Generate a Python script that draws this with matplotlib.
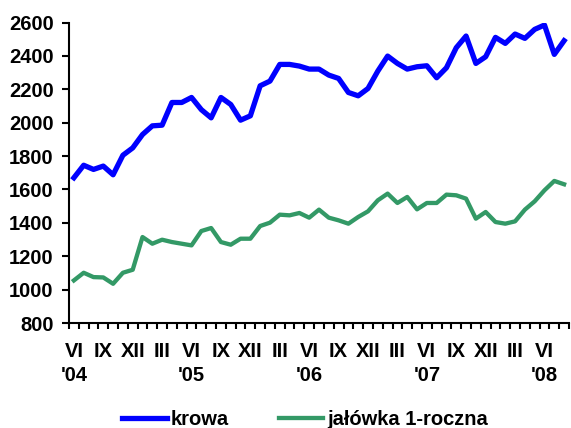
import matplotlib
matplotlib.use("Agg")
import matplotlib.pyplot as plt

# monthly prices, VI 2004 - VIII 2008
KROWA = [1670, 1745, 1720, 1740, 1688, 1805, 1849, 1929, 1981, 1985,
         2121, 2121, 2151, 2078, 2029, 2151, 2109, 2015, 2041, 2221,
         2249, 2349, 2349, 2339, 2321, 2321, 2285, 2265, 2181, 2161,
         2205, 2309, 2399, 2355, 2321, 2335, 2341, 2269, 2329, 2449,
         2519, 2355, 2395, 2511, 2475, 2531, 2505, 2559, 2585, 2409,
         2491]
JALOWKA = [1055, 1101, 1075, 1073, 1035, 1101, 1119, 1315, 1275, 1299,
           1285, 1275, 1265, 1351, 1369, 1285, 1269, 1305, 1305, 1381,
           1401, 1449, 1445, 1459, 1431, 1479, 1431, 1415, 1395, 1435,
           1469, 1535, 1575, 1519, 1555, 1481, 1519, 1519, 1569, 1565,
           1545, 1425, 1465, 1405, 1395, 1409, 1479, 1529, 1595, 1651,
           1631]
MONTHS = ["VI", "IX", "XII", "III"]
YEARS = ["'04", "'05", "'06", "'07", "'08"]
SERIES_NAMES = ["krowa", "jałówka 1-roczna"]

C_KROWA = "#0000ff"
C_JAL = "#339966"
FS = 14.5

plt.rcParams["font.family"] = ["Liberation Sans", "DejaVu Sans"]
plt.rcParams["font.weight"] = "bold"

fig = plt.figure(figsize=(5.71, 4.28), dpi=100)
ax = fig.add_axes([0.1208, 0.2453, 0.8757, 0.7021])

x = list(range(len(KROWA)))
l1, = ax.plot(x, KROWA, color=C_KROWA, lw=3.8, solid_joinstyle="round")
l2, = ax.plot(x, JALOWKA, color=C_JAL, lw=3.1, solid_joinstyle="round")

ax.set_xlim(-0.5, len(KROWA) - 0.5)
ax.set_ylim(800, 2600)
ax.set_yticks(range(800, 2601, 200))

# month labels every quarter, year under each June
idx = list(range(0, len(KROWA), 3))
labels = []
for k, i in enumerate(idx):
    m = MONTHS[k % 4]
    if m == "VI":
        m = m + "\n" + YEARS[k // 4]
    labels.append(m)
ax.set_xticks(idx)
ax.set_xticklabels(labels, va="top", linespacing=1.3)
ax.set_xticks([i - 0.5 for i in range(len(KROWA) + 1)], minor=True)

ax.tick_params(axis="x", which="major", length=0, pad=14, labelsize=FS)
ax.tick_params(axis="x", which="minor", length=4.5, width=1.5, direction="out")
ax.tick_params(axis="y", length=5, width=1.5, pad=6, labelsize=FS)

for s in ("top", "right"):
    ax.spines[s].set_visible(False)
for s in ("left", "bottom"):
    ax.spines[s].set_linewidth(1.5)

fig.legend([l1, l2], SERIES_NAMES, loc="center left", bbox_to_anchor=(0.2, 0.02),
           ncol=2, frameon=False, fontsize=FS, handlelength=2.2,
           handletextpad=0.2, columnspacing=2.5, borderaxespad=0)

fig.savefig("out.png", dpi=100)
